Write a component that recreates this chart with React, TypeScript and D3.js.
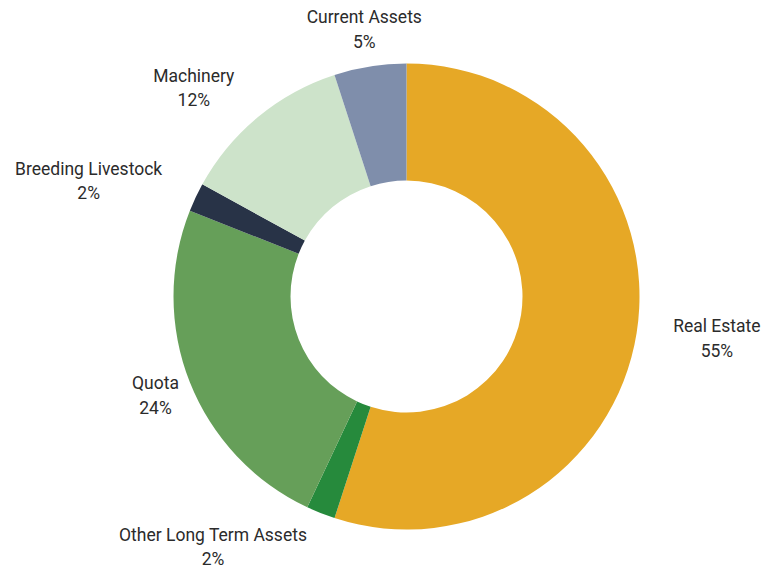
import React from "react";
import * as d3 from "d3";

const categories = ["Real Estate", "Other Long Term Assets", "Quota", "Breeding Livestock", "Machinery", "Current Assets"];
const values = [55, 2, 24, 2, 12, 5];
const percentLabels = ["55%", "2%", "24%", "2%", "12%", "5%"];
const colors = ["#E6A826", "#268A3C", "#669F59", "#283347", "#CDE3CA", "#7F8EAB"];
const labelAnchors = ["start", "end", "middle", "end", "end", "middle"];

const W = 764;
const H = 567;
const cx = 406.5;
const cy = 296.5;
const outerR = 233;
const innerR = 116;
const labelR = 270;
const FONT_SIZE = 17.5;
const FONT = "Roboto, 'Noto Sans', sans-serif";

let ctx: CanvasRenderingContext2D | null = null;
function measure(t: string): number {
  if (!ctx) {
    const c = document.createElement("canvas");
    ctx = c.getContext("2d");
  }
  if (!ctx) return t.length * FONT_SIZE * 0.5;
  ctx.font = `${FONT_SIZE}px Roboto`;
  return ctx.measureText(t).width;
}

export default function App() {
  const pie = d3.pie<number>().sort(null).value((d) => d)(values);
  const arc = d3.arc<d3.PieArcDatum<number>>().innerRadius(innerR).outerRadius(outerR);

  return (
    <svg
      width={W}
      height={H}
      style={{ position: "absolute", left: 0, top: 0, display: "block", background: "#fff" }}
      fontFamily={FONT}
    >
      <g transform={`translate(${cx},${cy})`}>
        {pie.map((p, i) => (
          <path key={categories[i]} d={arc(p) || ""} fill={colors[i]} />
        ))}
        {pie.map((p, i) => {
          const a = (p.startAngle + p.endAngle) / 2;
          const x = labelR * Math.sin(a);
          const y = -labelR * Math.cos(a);
          const w = Math.max(measure(categories[i]), measure(percentLabels[i]));
          const anchor = labelAnchors[i];
          const mx = anchor === "start" ? x + w / 2 : anchor === "end" ? x - w / 2 : x;
          return (
            <text key={"l" + i} textAnchor="middle" fontSize={FONT_SIZE} fill="#2b2b2b">
              <tspan x={mx} y={y - 6.5}>{categories[i]}</tspan>
              <tspan x={mx} y={y + 17.8}>{percentLabels[i]}</tspan>
            </text>
          );
        })}
      </g>
    </svg>
  );
}
